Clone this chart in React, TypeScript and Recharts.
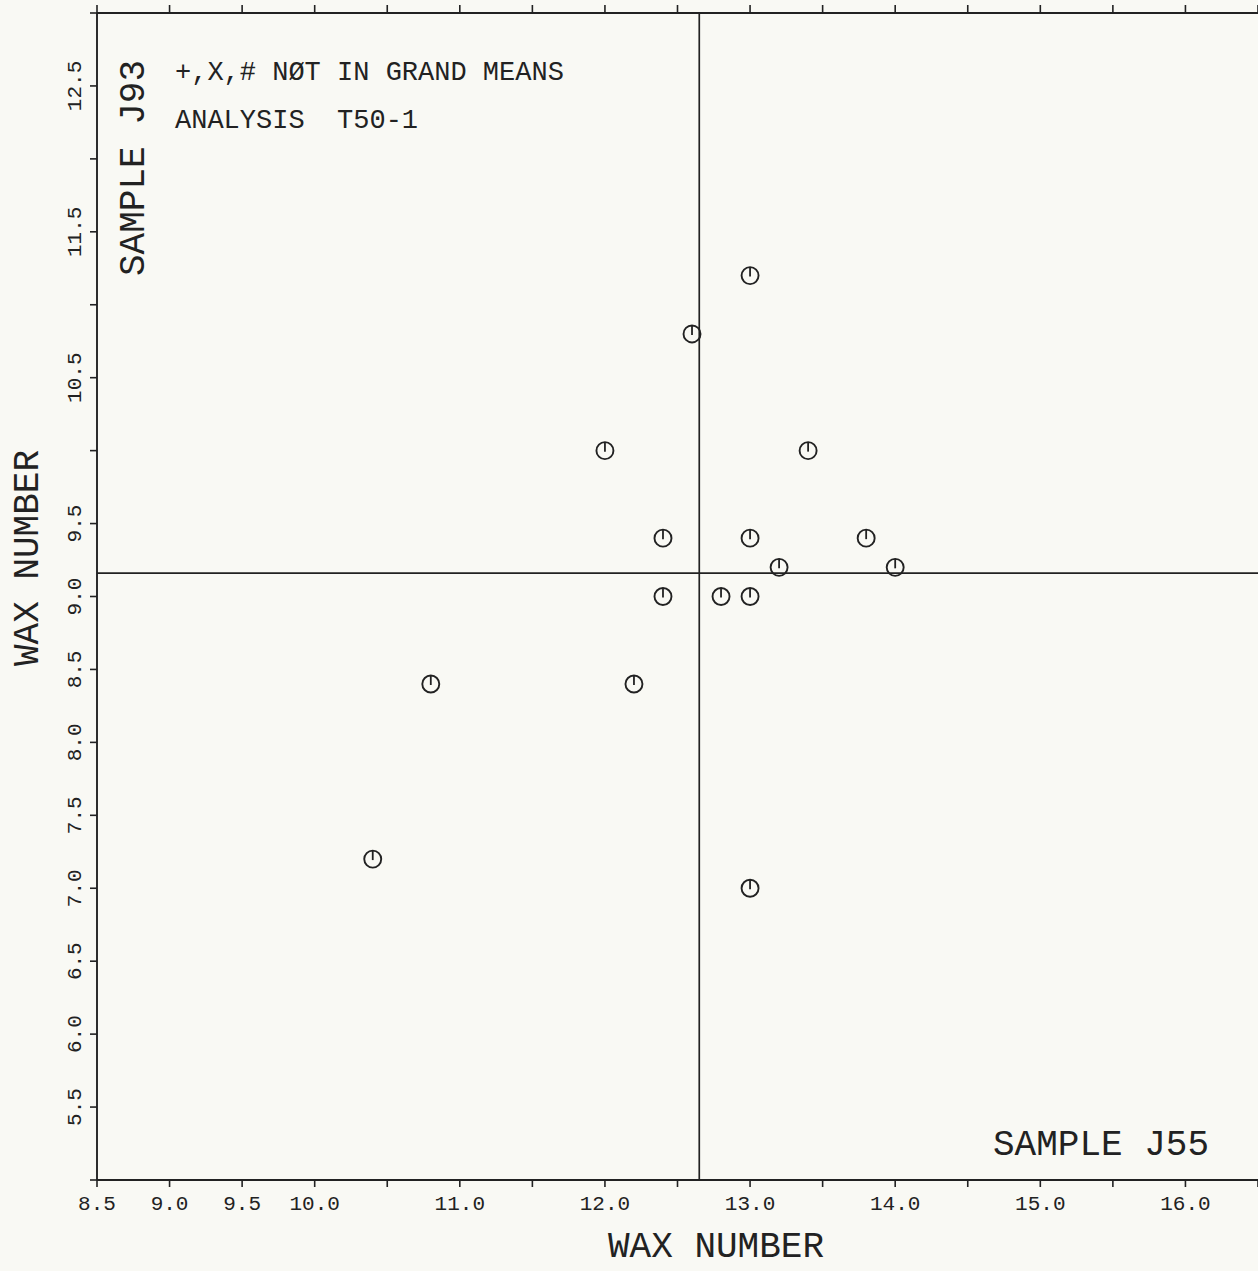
import React from 'react';
import { ScatterChart, Scatter, XAxis, YAxis, ReferenceLine } from 'recharts';

const xValues = [13.0, 12.6, 12.0, 13.4, 12.4, 13.0, 13.8, 13.2, 14.0, 12.4, 12.8, 13.0, 10.8, 12.2, 10.4, 13.0];
const yValues = [11.2, 10.8, 10.0, 10.0, 9.4, 9.4, 9.4, 9.2, 9.2, 9.0, 9.0, 9.0, 8.4, 8.4, 7.2, 7.0];

const xTicks = [8.5, 9.0, 9.5, 10.0, 10.5, 11.0, 11.5, 12.0, 12.5, 13.0, 13.5, 14.0, 14.5, 15.0, 15.5, 16.0, 16.5];
const xTickLabels = ['8.5', '9.0', '9.5', '10.0', '11.0', '12.0', '13.0', '14.0', '15.0', '16.0'];
const yTicks = [5.0, 5.5, 6.0, 6.5, 7.0, 7.5, 8.0, 8.5, 9.0, 9.5, 10.0, 10.5, 11.0, 11.5, 12.0, 12.5, 13.0];
const yTickLabels = ['12.5', '11.5', '10.5', '9.5', '9.0', '8.5', '8.0', '7.5', '7.0', '6.5', '6.0', '5.5'];

const meanX = 12.65;
const meanY = 9.16;

const INK = '#222';
const FONT = '"Liberation Mono", "DejaVu Sans Mono", monospace';

const points = xValues.map((x, i) => ({ x, y: yValues[i] }));

const BottomTick = ({ x, y, payload }: any) => {
  const label = payload.value.toFixed(1);
  if (!xTickLabels.includes(label)) return <g />;
  return (
    <text x={x} y={y} dy={21} textAnchor="middle" fill={INK} fontSize={21} fontFamily={FONT}>
      {label}
    </text>
  );
};

const NoLabel = () => <g />;

const LeftTick = ({ x, y, payload }: any) => {
  const label = payload.value.toFixed(1);
  if (!yTickLabels.includes(label)) return <g />;
  const cx = x - 13;
  return (
    <text x={cx} y={y} transform={`rotate(-90, ${cx}, ${y})`} textAnchor="middle" dominantBaseline="central"
      fill={INK} fontSize={21} fontFamily={FONT}>
      {label}
    </text>
  );
};

const Marker = (props: any) => {
  const { cx, cy } = props;
  const r = 8.5;
  return (
    <g>
      <circle cx={cx} cy={cy} r={r} fill="none" stroke={INK} strokeWidth={1.9} />
      <line x1={cx} y1={cy - r} x2={cx} y2={cy + 1} stroke={INK} strokeWidth={1.8} />
    </g>
  );
};

const Hidden = () => <g />;

export default function App() {
  return (
    <div style={{ position: 'absolute', left: 0, top: 0, width: 1258, height: 1271, background: '#f9f9f4', overflow: 'hidden' }}>
      <ScatterChart width={1258} height={1271} margin={{ top: 0, right: 0, bottom: 0, left: 0 }}>
        <XAxis type="number" dataKey="x" domain={[8.5, 16.5]} ticks={xTicks} allowDataOverflow height={91}
          tickSize={7} axisLine={{ stroke: INK, strokeWidth: 1.9 }} tickLine={{ stroke: INK, strokeWidth: 1.6 }}
          tick={<BottomTick />} interval={0} />
        <XAxis xAxisId="top" orientation="top" type="number" dataKey="x" domain={[8.5, 16.5]} ticks={xTicks}
          allowDataOverflow height={13} tickSize={8} tickMargin={0}
          axisLine={{ stroke: INK, strokeWidth: 1.9 }} tickLine={{ stroke: INK, strokeWidth: 1.6 }}
          tick={<NoLabel />} interval={0} />
        <YAxis type="number" dataKey="y" domain={[5, 13]} ticks={yTicks} allowDataOverflow width={97}
          tickSize={7} axisLine={{ stroke: INK, strokeWidth: 1.9 }} tickLine={{ stroke: INK, strokeWidth: 1.6 }}
          tick={<LeftTick />} interval={0} />
        <ReferenceLine x={meanX} stroke={INK} strokeWidth={1.7} />
        <ReferenceLine y={meanY} stroke={INK} strokeWidth={1.7} />
        <Scatter data={points} shape={<Marker />} isAnimationActive={false} />
        {/* invisible copy so the top axis gets its ticks */}
        <Scatter data={points} xAxisId="top" shape={<Hidden />} isAnimationActive={false} />
      </ScatterChart>
      <svg width={1258} height={1271} style={{ position: 'absolute', left: 0, top: 0, pointerEvents: 'none' }}>
        <g fill={INK} fontFamily={FONT}>
          <text x={175} y={80} fontSize={27}>+,X,# NØT IN GRAND MEANS</text>
          <text x={175} y={128} fontSize={27} xmlSpace="preserve">ANALYSIS  T50-1</text>
          <text x={134} y={168} fontSize={36} textAnchor="middle" dominantBaseline="central"
            transform="rotate(-90, 134, 168)">SAMPLE J93</text>
          <text x={1101} y={1145} fontSize={36} textAnchor="middle" dominantBaseline="central">SAMPLE J55</text>
          <text x={716} y={1247} fontSize={36} textAnchor="middle" dominantBaseline="central">WAX NUMBER</text>
          <text x={28} y={558} fontSize={36} textAnchor="middle" dominantBaseline="central"
            transform="rotate(-90, 28, 558)">WAX NUMBER</text>
        </g>
      </svg>
    </div>
  );
}
